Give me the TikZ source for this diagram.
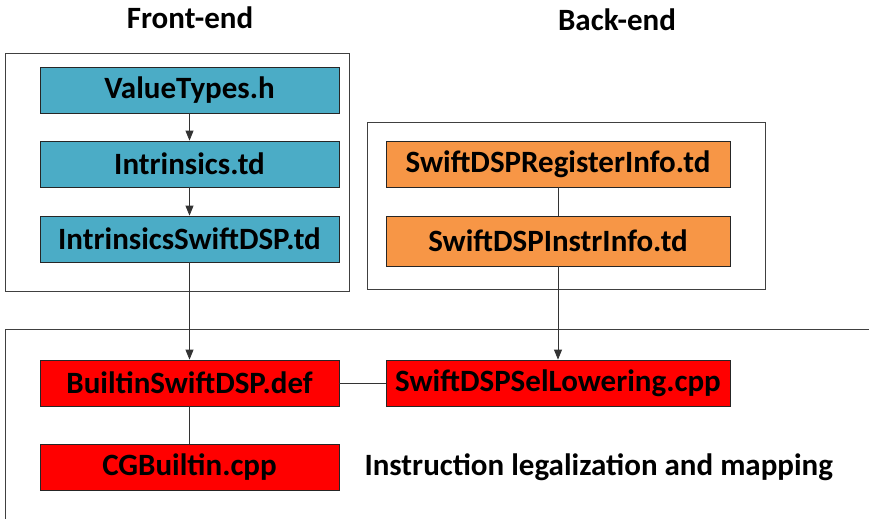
\documentclass[tikz,border=0pt]{standalone}
\usepackage{fontspec}
\setmainfont{Carlito}
\usetikzlibrary{arrows.meta}
\definecolor{feblue}{HTML}{4BACC6}
\definecolor{beorange}{HTML}{F79646}
\definecolor{lowred}{HTML}{FF0000}
\begin{document}
\begin{tikzpicture}[x=1pt,y=-1pt,
  big/.style={font=\fontsize{31}{36}\selectfont\bfseries},
  file/.style={big,draw=black!85,line width=0.8pt,minimum height=46pt,inner sep=0pt},
  fe/.style={file,fill=feblue,minimum width=299pt},
  be/.style={file,fill=beorange,minimum width=344pt},
  lo/.style={file,fill=lowred},
  frame/.style={draw=black!75,line width=0.8pt},
  link/.style={draw=black!80,line width=0.8pt},
  flow/.style={link,-{Triangle[length=10pt,width=8pt]}}]
\useasboundingbox (0,0) rectangle (869,519);

% group frames
\draw[frame] (5,53) rectangle (349,291);
\draw[frame] (367,122) rectangle (765,289);
\draw[frame] (869,329) -- (5,329) -- (5,519);

% titles
\node[big] (tfront) at (190,18) {Front-end};
\node[big] (tback) at (617,20) {Back-end};

% front-end files
\node[fe] (vt) at (189.5,90) {ValueTypes.h};
\node[fe] (intr) at (189.5,164) {Intrinsics.td};
\node[fe] (isd) at (189.5,239) {IntrinsicsSwiftDSP.td};

% back-end files
\node[be] (reg) at (558,164) {SwiftDSPRegisterInfo.td};
\node[be,minimum height=50pt] (instr) at (558,241) {SwiftDSPInstrInfo.td};

% lowering files
\node[lo,minimum width=299pt] (bdef) at (189.5,383) {BuiltinSwiftDSP.def};
\node[lo,minimum width=344pt] (sel) at (558,383) {SwiftDSPSelLowering.cpp};
\node[lo,minimum width=299pt] (cg) at (189.5,467) {CGBuiltin.cpp};
\node[big,anchor=west] (note) at (361,467) {Instruction legalization and mapping};

% connectors
\draw[flow] (vt) -- (intr);
\draw[flow] (intr) -- (isd);
\draw[flow] (isd) -- (bdef);
\draw[link] (reg) -- (instr);
\draw[flow] (instr) -- (sel);
\draw[link] (bdef) -- (sel);
\draw[link] (bdef) -- (cg);
\end{tikzpicture}
\end{document}
